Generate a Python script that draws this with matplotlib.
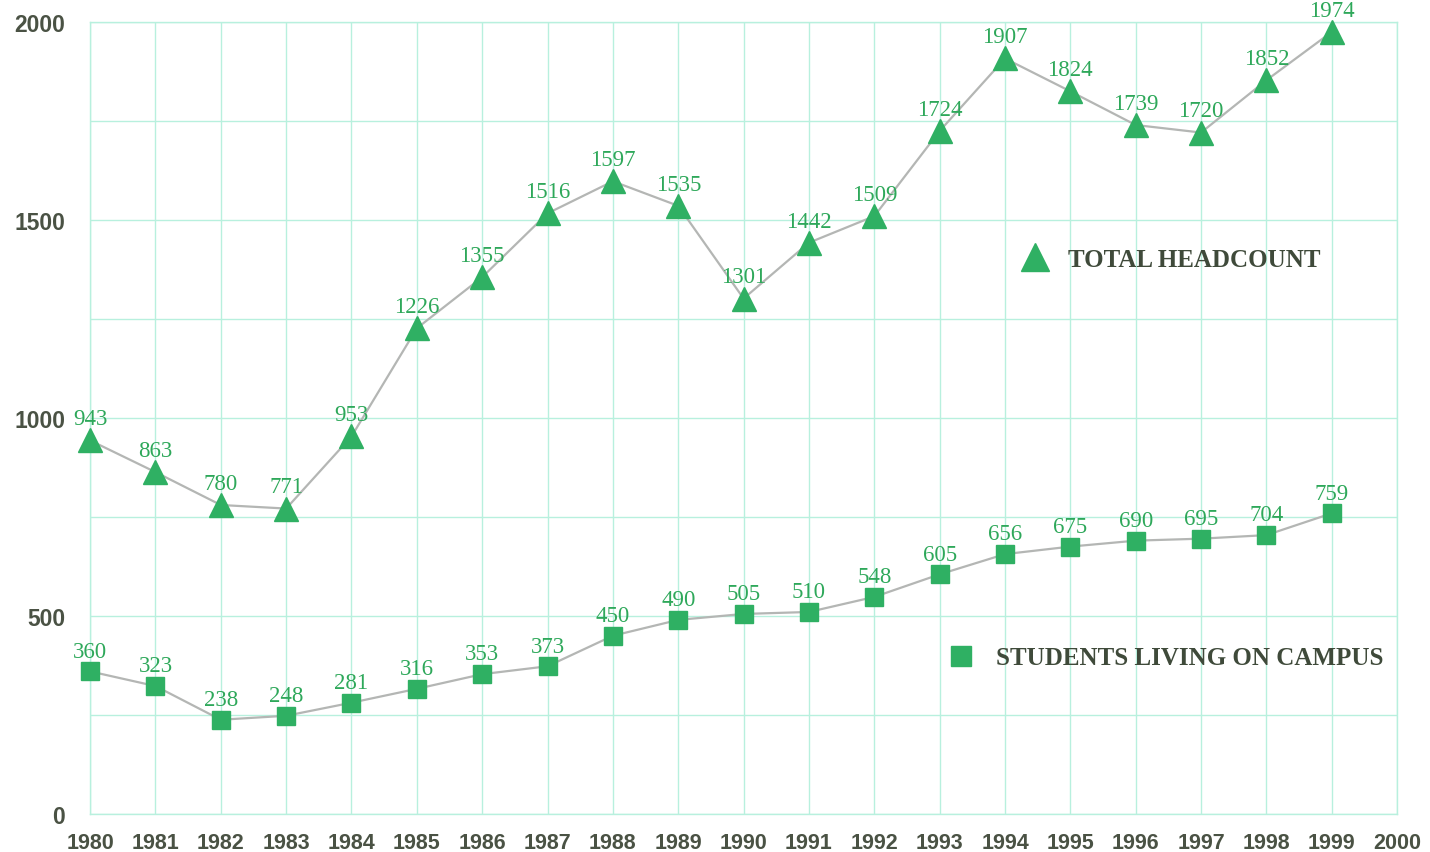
import matplotlib.pyplot as plt
from matplotlib.lines import Line2D

# Data
years = list(range(1980, 2000))
total_headcount = [943, 863, 780, 771, 953, 1226, 1355, 1516, 1597, 1535,
                   1301, 1442, 1509, 1724, 1907, 1824, 1739, 1720, 1852, 1974]
on_campus = [360, 323, 238, 248, 281, 316, 353, 373, 450, 490,
             505, 510, 548, 605, 656, 675, 690, 695, 704, 759]
x_ticks = list(range(1980, 2001))
y_labels = [0, 500, 1000, 1500, 2000]

green = '#2fb063'
label_green = '#2ea85a'
grid_col = '#b8f0de'
line_col = '#b4b6b4'
text_col = '#4a5244'

fig = plt.figure(figsize=(14.3, 8.53), dpi=100)
ax = fig.add_axes([0.063, 0.0445, 0.914, 0.929])

ax.plot(years, total_headcount, color=line_col, lw=1.6, zorder=2, clip_on=False)
ax.plot(years, total_headcount, ls='none', marker='^', ms=17,
        color=green, mec=green, zorder=3, clip_on=False)
ax.plot(years, on_campus, color=line_col, lw=1.6, zorder=2, clip_on=False)
ax.plot(years, on_campus, ls='none', marker='s', ms=13,
        color=green, mec=green, zorder=3, clip_on=False)

# value labels
for x, v in zip(years, total_headcount):
    ax.annotate(str(v), (x, v), xytext=(0, 8), textcoords='offset points',
                ha='center', va='bottom', fontsize=16.5, color=label_green,
                family='Liberation Serif')
for x, v in zip(years, on_campus):
    ax.annotate(str(v), (x, v), xytext=(0, 7), textcoords='offset points',
                ha='center', va='bottom', fontsize=16.5, color=label_green,
                family='Liberation Serif')

ax.set_xlim(1980, 2000)
ax.set_ylim(0, 2000)
ax.set_xticks(x_ticks)
ax.set_xticklabels([str(t) for t in x_ticks])
ax.set_yticks(range(0, 2001, 250))
ax.set_yticklabels([str(t) if t in y_labels else '' for t in range(0, 2001, 250)])
ax.grid(True, color=grid_col, lw=1.0)
ax.set_axisbelow(True)
for s in ax.spines.values():
    s.set_color(grid_col)
    s.set_linewidth(1.0)
ax.tick_params(length=0)
ax.tick_params(axis='x', pad=13, labelsize=15.5, labelcolor=text_col)
ax.tick_params(axis='y', pad=18, labelsize=16.5, labelcolor=text_col)
for lab in ax.get_xticklabels() + ax.get_yticklabels():
    lab.set_fontweight('bold')
    lab.set_family('Liberation Sans')

# legend entries placed separately
h1 = Line2D([], [], ls='none', marker='^', ms=20, color=green)
h2 = Line2D([], [], ls='none', marker='s', ms=15, color=green)
leg1 = ax.legend([h1], ['TOTAL HEADCOUNT'], loc='center left',
                 bbox_to_anchor=(0.694, 0.700), frameon=False, handletextpad=0.75,
                 handlelength=1.2,
                 prop={'family': 'Liberation Serif', 'weight': 'bold', 'size': 18})
for t in leg1.get_texts():
    t.set_color('#3f4a3a')
ax.add_artist(leg1)
leg2 = ax.legend([h2], ['STUDENTS LIVING ON CAMPUS'], loc='center left',
                 bbox_to_anchor=(0.638, 0.197), frameon=False, handletextpad=0.8,
                 handlelength=1.2,
                 prop={'family': 'Liberation Serif', 'weight': 'bold', 'size': 18})
for t in leg2.get_texts():
    t.set_color('#3f4a3a')

fig.savefig('out.png', dpi=100)
